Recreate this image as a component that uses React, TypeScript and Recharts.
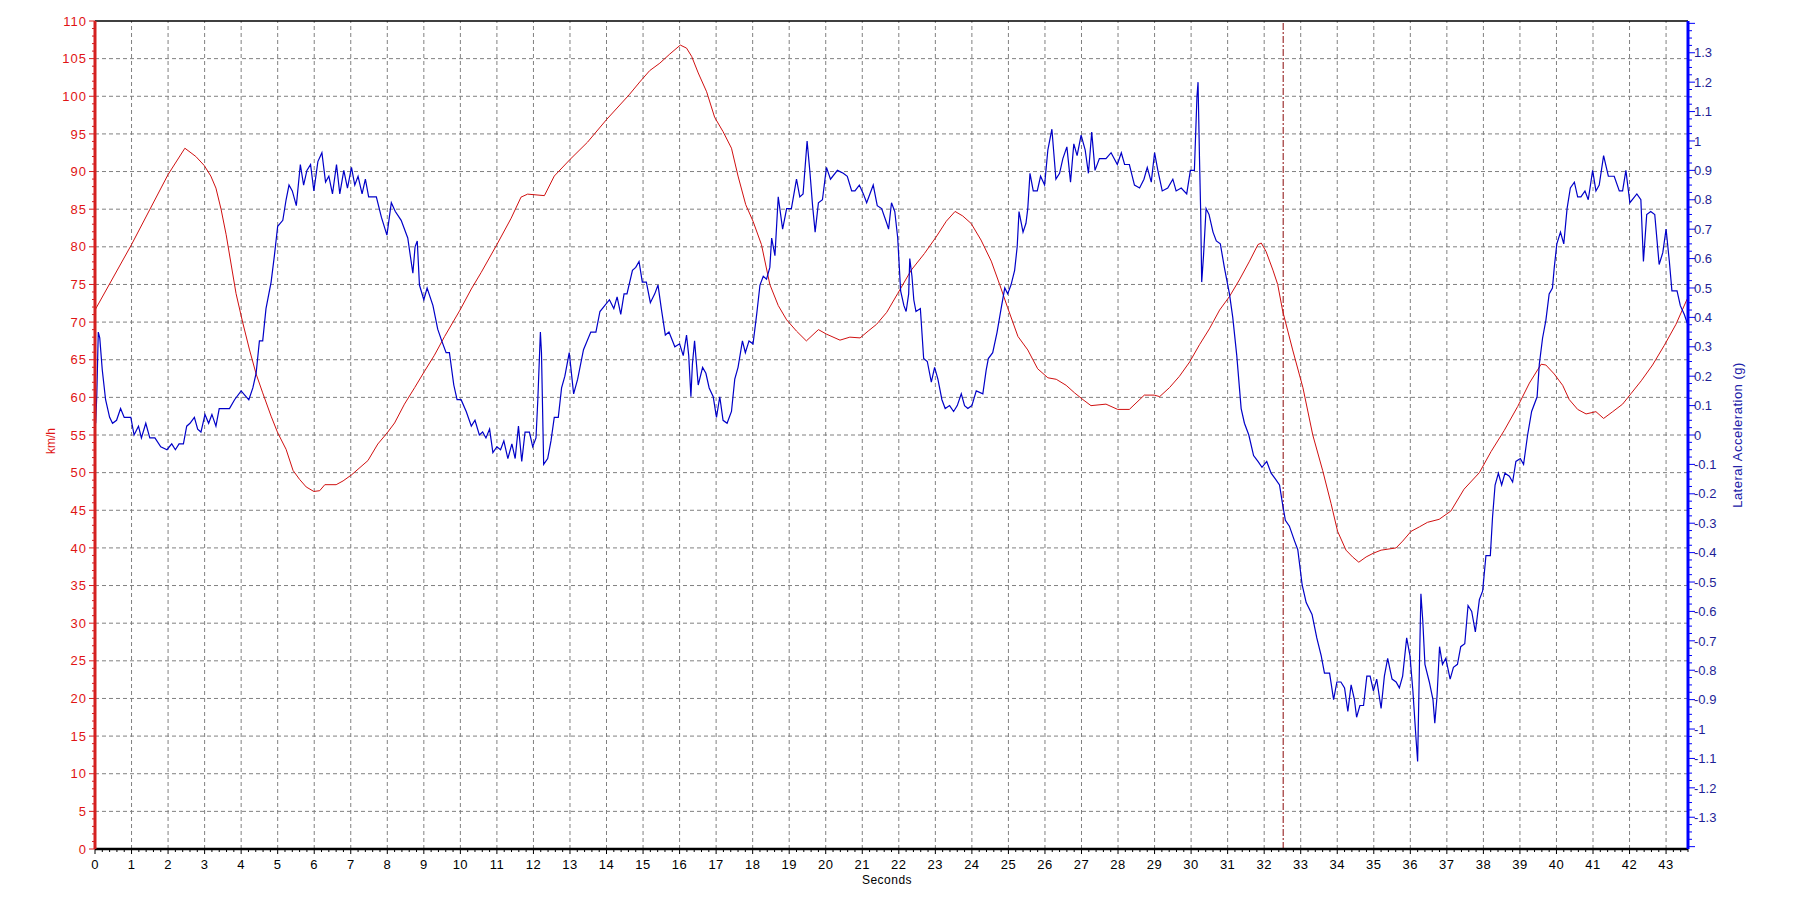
import React from "react";
import { LineChart, Line, XAxis, YAxis, ReferenceLine } from "recharts";

// speed trace (km/h)
const speedT = [
  0, 1.0, 2.0, 2.46, 2.76, 2.99, 3.17, 3.31, 3.45, 3.59, 3.86, 4.04, 4.23, 4.41, 4.59, 4.82, 5.0, 5.23, 5.42, 5.6,
  5.78, 5.99, 6.15, 6.29, 6.6, 6.79, 7.02, 7.47, 7.74, 8.0, 8.2, 8.47, 8.75, 9.01, 9.29, 9.57, 9.99, 10.3, 10.57, 11.0,
  11.39, 11.66, 11.84, 12.07, 12.3, 12.57, 13.0, 13.48, 14.0, 14.62, 14.91, 15.18, 15.46, 15.73, 16.02, 16.19, 16.33, 16.51, 16.74, 16.96,
  17.19, 17.42, 17.6, 17.81, 18.01, 18.24, 18.47, 18.7, 18.93, 19.2, 19.47, 19.8, 20.02, 20.39, 20.66, 20.94, 21.16, 21.39, 21.67, 21.97,
  22.34, 22.7, 23.02, 23.3, 23.54, 23.75, 23.98, 24.25, 24.53, 24.76, 24.98, 25.26, 25.53, 25.8, 26.08, 26.31, 26.58, 26.81, 27.04, 27.26,
  27.67, 27.99, 28.31, 28.72, 28.99, 29.14, 29.41, 29.68, 29.96, 30.23, 30.5, 30.78, 31.05, 31.32, 31.6, 31.83, 31.92, 32.05, 32.24, 32.37,
  32.51, 32.78, 33.06, 33.33, 33.6, 33.83, 34.01, 34.24, 34.42, 34.59, 34.79, 34.99, 35.2, 35.61, 35.79, 36.02, 36.25, 36.47, 36.79, 37.11,
  37.47, 37.89, 38.21, 38.57, 38.94, 39.26, 39.58, 39.71, 39.94, 40.17, 40.35, 40.58, 40.81, 41.08, 41.29, 41.54, 41.81, 42.04, 42.32, 42.63,
  42.95, 43.27, 43.58,
];
const speedKmh = [
  71.6, 80.3, 89.6, 93.1, 92.0, 90.8, 89.4, 87.8, 85.0, 81.6, 73.8, 70.0, 66.3, 63.1, 60.6, 57.5, 55.3, 53.1, 50.3, 49.1,
  48.1, 47.5, 47.6, 48.4, 48.4, 48.9, 49.7, 51.6, 53.8, 55.3, 56.6, 59.1, 61.3, 63.4, 65.6, 68.1, 71.6, 74.4, 76.6, 80.3,
  83.8, 86.6, 87.0, 86.9, 86.8, 89.4, 91.6, 93.9, 96.9, 100.2, 101.9, 103.4, 104.4, 105.6, 106.8, 106.4, 105.3, 103.1, 100.6, 97.2,
  95.3, 93.1, 89.4, 85.6, 83.4, 80.3, 75.0, 72.2, 70.3, 68.8, 67.5, 69.0, 68.4, 67.6, 68.0, 67.9, 68.8, 69.7, 71.3, 73.8,
  76.9, 79.1, 81.3, 83.4, 84.7, 84.1, 83.1, 80.9, 78.1, 75.0, 71.9, 68.1, 66.3, 63.8, 62.6, 62.4, 61.6, 60.6, 59.7, 58.9,
  59.1, 58.4, 58.4, 60.3, 60.3, 60.1, 61.3, 62.8, 64.7, 67.0, 69.1, 71.6, 73.4, 75.6, 78.1, 80.3, 80.5, 79.4, 76.9, 75.0,
  71.4, 66.3, 61.3, 55.0, 50.3, 45.9, 42.2, 39.7, 38.8, 38.1, 38.8, 39.3, 39.7, 40.0, 40.9, 42.2, 42.8, 43.4, 43.8, 44.9,
  47.8, 50.0, 52.8, 55.6, 58.8, 61.9, 64.4, 64.3, 63.1, 61.6, 59.7, 58.4, 57.8, 58.1, 57.2, 58.1, 59.1, 60.5, 62.2, 64.3,
  66.9, 69.7, 73.1,
];

// lateral acceleration trace (g)
const accT = [
  0, 0.02, 0.05, 0.09, 0.13, 0.2, 0.29, 0.4, 0.48, 0.59, 0.7, 0.8, 0.98, 1.07, 1.19, 1.27, 1.39, 1.5, 1.64, 1.8,
  1.97, 2.1, 2.2, 2.3, 2.42, 2.51, 2.6, 2.72, 2.81, 2.9, 3.01, 3.11, 3.2, 3.31, 3.4, 3.68, 3.82, 4.0, 4.14, 4.21,
  4.32, 4.41, 4.5, 4.59, 4.68, 4.82, 4.91, 5.0, 5.14, 5.23, 5.31, 5.4, 5.51, 5.62, 5.71, 5.8, 5.9, 5.99, 6.1, 6.21,
  6.31, 6.4, 6.5, 6.61, 6.7, 6.81, 6.91, 7.02, 7.11, 7.2, 7.31, 7.4, 7.49, 7.7, 7.84, 7.99, 8.11, 8.22, 8.38, 8.56,
  8.7, 8.76, 8.82, 8.88, 9.0, 9.09, 9.25, 9.38, 9.49, 9.61, 9.7, 9.82, 9.91, 10.02, 10.16, 10.3, 10.4, 10.52, 10.61, 10.7,
  10.8, 10.89, 11.0, 11.1, 11.19, 11.3, 11.41, 11.5, 11.59, 11.68, 11.77, 11.89, 11.98, 12.07, 12.12, 12.19, 12.22, 12.28, 12.39, 12.48,
  12.57, 12.68, 12.77, 12.86, 12.98, 13.1, 13.21, 13.37, 13.57, 13.71, 13.82, 14.08, 14.2, 14.29, 14.39, 14.48, 14.56, 14.71, 14.8, 14.89,
  14.98, 15.09, 15.2, 15.32, 15.41, 15.5, 15.61, 15.71, 15.87, 16.0, 16.1, 16.19, 16.25, 16.31, 16.35, 16.41, 16.51, 16.63, 16.72, 16.81,
  16.92, 17.01, 17.1, 17.19, 17.3, 17.42, 17.51, 17.6, 17.72, 17.8, 17.9, 18.01, 18.11, 18.2, 18.29, 18.38, 18.47, 18.52, 18.61, 18.7,
  18.82, 18.93, 19.06, 19.2, 19.29, 19.38, 19.49, 19.57, 19.64, 19.71, 19.8, 19.91, 20.02, 20.13, 20.32, 20.48, 20.59, 20.71, 20.8, 20.92,
  21.03, 21.12, 21.3, 21.41, 21.53, 21.67, 21.72, 21.8, 21.89, 21.97, 22.05, 22.14, 22.2, 22.27, 22.3, 22.36, 22.41, 22.47, 22.59, 22.68,
  22.78, 22.89, 22.98, 23.07, 23.18, 23.27, 23.39, 23.5, 23.6, 23.71, 23.8, 23.89, 24.0, 24.12, 24.3, 24.39, 24.45, 24.57, 24.69, 24.8,
  24.9, 24.98, 25.07, 25.17, 25.24, 25.29, 25.4, 25.48, 25.53, 25.59, 25.68, 25.79, 25.88, 25.99, 26.08, 26.19, 26.3, 26.4, 26.49, 26.6,
  26.7, 26.79, 26.88, 26.99, 27.1, 27.19, 27.28, 27.37, 27.49, 27.67, 27.81, 27.98, 28.09, 28.18, 28.31, 28.45, 28.59, 28.71, 28.8, 28.91,
  29.0, 29.09, 29.21, 29.36, 29.5, 29.59, 29.73, 29.88, 29.98, 30.09, 30.16, 30.19, 30.23, 30.26, 30.29, 30.34, 30.41, 30.49, 30.6, 30.69,
  30.8, 30.91, 31.05, 31.14, 31.25, 31.37, 31.46, 31.58, 31.71, 31.83, 31.94, 32.07, 32.19, 32.31, 32.42, 32.51, 32.58, 32.69, 32.83, 32.92,
  33.04, 33.15, 33.31, 33.44, 33.56, 33.65, 33.79, 33.9, 33.99, 34.1, 34.2, 34.29, 34.38, 34.47, 34.53, 34.62, 34.72, 34.81, 34.9, 34.99,
  35.08, 35.2, 35.29, 35.38, 35.5, 35.61, 35.7, 35.79, 35.9, 35.99, 36.07, 36.16, 36.2, 36.25, 36.29, 36.34, 36.4, 36.52, 36.62, 36.67,
  36.73, 36.8, 36.88, 36.97, 37.09, 37.18, 37.29, 37.38, 37.49, 37.58, 37.68, 37.78, 37.89, 37.98, 38.07, 38.19, 38.25, 38.32, 38.41, 38.5,
  38.59, 38.71, 38.8, 38.89, 39.01, 39.1, 39.21, 39.32, 39.47, 39.53, 39.62, 39.71, 39.8, 39.89, 39.94, 40.01, 40.11, 40.2, 40.29, 40.38,
  40.49, 40.58, 40.67, 40.78, 40.87, 40.99, 41.08, 41.17, 41.29, 41.42, 41.58, 41.72, 41.81, 41.9, 42.01, 42.2, 42.31, 42.38, 42.47, 42.58,
  42.69, 42.81, 42.91, 43.0, 43.09, 43.16, 43.3, 43.39, 43.5, 43.58,
];
const accG = [
  0.12, 0.04, 0.14, 0.35, 0.33, 0.22, 0.12, 0.06, 0.04, 0.05, 0.09, 0.06, 0.06, 0.0, 0.03, -0.01, 0.04, -0.01, -0.01, -0.04,
  -0.05, -0.03, -0.05, -0.03, -0.03, 0.03, 0.04, 0.06, 0.02, 0.01, 0.07, 0.04, 0.07, 0.03, 0.09, 0.09, 0.12, 0.15, 0.13, 0.12,
  0.16, 0.21, 0.32, 0.32, 0.43, 0.52, 0.61, 0.71, 0.73, 0.8, 0.85, 0.83, 0.78, 0.92, 0.85, 0.9, 0.92, 0.83, 0.93, 0.96,
  0.86, 0.88, 0.82, 0.92, 0.82, 0.9, 0.84, 0.91, 0.85, 0.88, 0.82, 0.87, 0.81, 0.81, 0.74, 0.68, 0.79, 0.76, 0.73, 0.67,
  0.55, 0.64, 0.66, 0.51, 0.46, 0.5, 0.44, 0.36, 0.32, 0.28, 0.28, 0.17, 0.12, 0.12, 0.08, 0.03, 0.05, 0.0, 0.01, -0.01,
  0.02, -0.06, -0.04, -0.05, -0.02, -0.08, -0.03, -0.08, 0.03, -0.09, 0.01, 0.01, -0.04, -0.01, 0.12, 0.35, 0.28, -0.1, -0.08, -0.02,
  0.06, 0.06, 0.16, 0.2, 0.28, 0.14, 0.19, 0.29, 0.35, 0.35, 0.42, 0.46, 0.43, 0.47, 0.41, 0.48, 0.48, 0.56, 0.57, 0.59,
  0.52, 0.52, 0.45, 0.48, 0.51, 0.43, 0.34, 0.35, 0.3, 0.31, 0.27, 0.34, 0.27, 0.13, 0.24, 0.32, 0.17, 0.23, 0.21, 0.16,
  0.13, 0.06, 0.13, 0.05, 0.04, 0.08, 0.19, 0.23, 0.32, 0.28, 0.32, 0.31, 0.41, 0.51, 0.54, 0.53, 0.57, 0.67, 0.61, 0.81,
  0.7, 0.77, 0.77, 0.87, 0.81, 0.82, 1.0, 0.89, 0.78, 0.69, 0.79, 0.8, 0.91, 0.87, 0.9, 0.89, 0.88, 0.83, 0.83, 0.85,
  0.82, 0.79, 0.85, 0.78, 0.77, 0.72, 0.7, 0.79, 0.76, 0.67, 0.49, 0.44, 0.42, 0.48, 0.6, 0.54, 0.46, 0.42, 0.43, 0.26,
  0.25, 0.18, 0.23, 0.19, 0.12, 0.09, 0.1, 0.08, 0.1, 0.14, 0.1, 0.09, 0.1, 0.15, 0.14, 0.22, 0.26, 0.28, 0.35, 0.43,
  0.5, 0.48, 0.51, 0.56, 0.64, 0.76, 0.69, 0.72, 0.77, 0.89, 0.83, 0.83, 0.88, 0.85, 0.97, 1.04, 0.87, 0.89, 0.94, 0.98,
  0.86, 0.99, 0.95, 1.02, 0.97, 0.89, 1.03, 0.9, 0.94, 0.94, 0.96, 0.92, 0.96, 0.92, 0.92, 0.85, 0.84, 0.87, 0.91, 0.86,
  0.96, 0.9, 0.83, 0.84, 0.87, 0.83, 0.84, 0.82, 0.9, 0.9, 1.15, 1.2, 0.94, 0.77, 0.52, 0.61, 0.77, 0.75, 0.69, 0.66,
  0.65, 0.57, 0.48, 0.4, 0.27, 0.09, 0.04, 0.0, -0.07, -0.09, -0.11, -0.09, -0.13, -0.15, -0.17, -0.24, -0.29, -0.31, -0.36, -0.39,
  -0.51, -0.57, -0.61, -0.69, -0.75, -0.81, -0.81, -0.9, -0.84, -0.84, -0.86, -0.94, -0.85, -0.9, -0.96, -0.92, -0.92, -0.82, -0.82, -0.87,
  -0.83, -0.93, -0.82, -0.76, -0.83, -0.84, -0.86, -0.82, -0.69, -0.75, -0.87, -1.04, -1.11, -0.78, -0.54, -0.63, -0.78, -0.84, -0.9, -0.98,
  -0.89, -0.72, -0.78, -0.76, -0.83, -0.79, -0.78, -0.72, -0.71, -0.58, -0.6, -0.67, -0.56, -0.53, -0.41, -0.41, -0.28, -0.17, -0.13, -0.17,
  -0.13, -0.14, -0.16, -0.09, -0.08, -0.1, 0.0, 0.08, 0.13, 0.24, 0.33, 0.39, 0.48, 0.5, 0.57, 0.65, 0.69, 0.65, 0.77, 0.84,
  0.86, 0.81, 0.81, 0.83, 0.8, 0.9, 0.83, 0.85, 0.95, 0.88, 0.88, 0.83, 0.83, 0.9, 0.79, 0.82, 0.8, 0.59, 0.75, 0.76,
  0.75, 0.58, 0.62, 0.7, 0.59, 0.49, 0.49, 0.44, 0.41, 0.38,
];

const cursorT = 32.52;

// axis ticks: minor + major, labels only on the major ones
const kmhTicks = Array.from({ length: 111 }, (_, i) => i);
const secTicks = Array.from({ length: 219 }, (_, i) => Math.round(i * 2) / 10);
const gTicks = Array.from({ length: 113 }, (_, i) => Math.round((i - 56) * 25) / 1000);
const gridKmh = Array.from({ length: 21 }, (_, i) => (i + 1) * 5);
const gridSec = Array.from({ length: 43 }, (_, i) => i + 1);

const speedData = speedT.map((t, i) => ({ t, kmh: speedKmh[i] }));
const accData = accT.map((t, i) => ({ t, g: accG[i] }));

const FONT = '"Liberation Sans", Arial, sans-serif';
const GRID = "#808080";

const LeftTick = ({ x, y, payload }: any) => {
  const v = payload.value;
  const major = v % 5 === 0;
  return (
    <g>
      <line x1={x} x2={x - (major ? 6 : 3)} y1={y} y2={y} stroke="#d42020" strokeWidth={1} />
      {major && (
        <text x={x - 8} y={y} dy="0.36em" textAnchor="end" fill="#e01414" fontSize={13} letterSpacing={1} fontFamily={FONT}>
          {v}
        </text>
      )}
    </g>
  );
};

const RightTick = ({ x, y, payload }: any) => {
  const v = payload.value;
  const major = Math.abs(v * 10 - Math.round(v * 10)) < 1e-6;
  const label = major && Math.abs(v) < 1.35;
  return (
    <g>
      <line x1={x} x2={x + (major ? 7 : 4)} y1={y} y2={y} stroke="#0000ff" strokeWidth={1} />
      {label && (
        <text x={x + 6} y={y} dy="0.36em" textAnchor="start" fill="#1e1e96" fontSize={13} fontFamily={FONT}>
          {String(Math.round(v * 10) / 10)}
        </text>
      )}
    </g>
  );
};

const BottomTick = ({ x, y, payload }: any) => {
  const v = payload.value;
  const major = Math.abs(v - Math.round(v)) < 1e-6;
  return (
    <g>
      <line x1={x} x2={x} y1={y} y2={y + (major ? 5 : 3)} stroke="#000" strokeWidth={1} />
      {major && (
        <text x={x} y={y + 20} textAnchor="middle" fill="#000" fontSize={13} letterSpacing={0.5} fontFamily={FONT}>
          {Math.round(v)}
        </text>
      )}
    </g>
  );
};

export default function App() {
  return (
    <div style={{ position: "absolute", left: 0, top: 0, width: 1806, height: 898, background: "#fff", fontFamily: FONT }}>
      <LineChart width={1806} height={898} margin={{ top: 21, right: 0, bottom: 0, left: 0 }}>
        <XAxis
          dataKey="t"
          type="number"
          domain={[0, 43.6]}
          allowDataOverflow
          ticks={secTicks}
          interval={0}
          height={49}
          tickSize={0}
          tickMargin={0}
          tickLine={false}
          tick={<BottomTick />}
          axisLine={{ stroke: "#000", strokeWidth: 2.5 }}
        />
        <YAxis
          yAxisId="left"
          type="number"
          domain={[0, 110]}
          allowDataOverflow
          ticks={kmhTicks}
          interval={0}
          width={95}
          tickSize={0}
          tickMargin={0}
          tickLine={false}
          tick={<LeftTick />}
          axisLine={{ stroke: "#d42020", strokeWidth: 3 }}
        />
        <YAxis
          yAxisId="right"
          orientation="right"
          type="number"
          domain={[-1.408, 1.408]}
          allowDataOverflow
          ticks={gTicks}
          interval={0}
          width={118}
          tickSize={0}
          tickMargin={0}
          tickLine={false}
          tick={<RightTick />}
          axisLine={{ stroke: "#0000ff", strokeWidth: 3 }}
        />
        {/* dashed grid: every 5 km/h and every second */}
        {gridKmh.map((v) => (
          <ReferenceLine key={"h" + v} yAxisId="left" y={v} stroke={GRID} strokeDasharray="4 3" />
        ))}
        {gridSec.map((s) => (
          <ReferenceLine key={"v" + s} yAxisId="left" x={s} stroke={GRID} strokeDasharray="4 3" />
        ))}
        <ReferenceLine yAxisId="left" y={110} stroke="#000" strokeWidth={1.5} />
        <ReferenceLine yAxisId="left" x={cursorT} stroke="#8b0a0a" strokeWidth={1} strokeDasharray="7 2 2 2" />
        <Line
          yAxisId="left"
          data={speedData}
          dataKey="kmh"
          type="linear"
          stroke="#d01010"
          strokeWidth={1}
          dot={false}
          activeDot={false}
          isAnimationActive={false}
        />
        <Line
          yAxisId="right"
          data={accData}
          dataKey="g"
          type="linear"
          stroke="#0000c8"
          strokeWidth={1.2}
          dot={false}
          activeDot={false}
          isAnimationActive={false}
        />
      </LineChart>
      <div
        style={{
          position: "absolute", left: 51, top: 441, transform: "translate(-50%, -50%) rotate(-90deg)",
          color: "#e01414", fontSize: 12, whiteSpace: "nowrap",
        }}
      >
        km/h
      </div>
      <div
        style={{
          position: "absolute", left: 1737, top: 435, transform: "translate(-50%, -50%) rotate(-90deg)",
          color: "#2020a8", fontSize: 13, letterSpacing: 0.5, whiteSpace: "nowrap",
        }}
      >
        Lateral Acceleration (g)
      </div>
      <div
        style={{
          position: "absolute", left: 887, top: 880, transform: "translate(-50%, -50%)",
          color: "#000", fontSize: 12, letterSpacing: 0.5, whiteSpace: "nowrap",
        }}
      >
        Seconds
      </div>
    </div>
  );
}
